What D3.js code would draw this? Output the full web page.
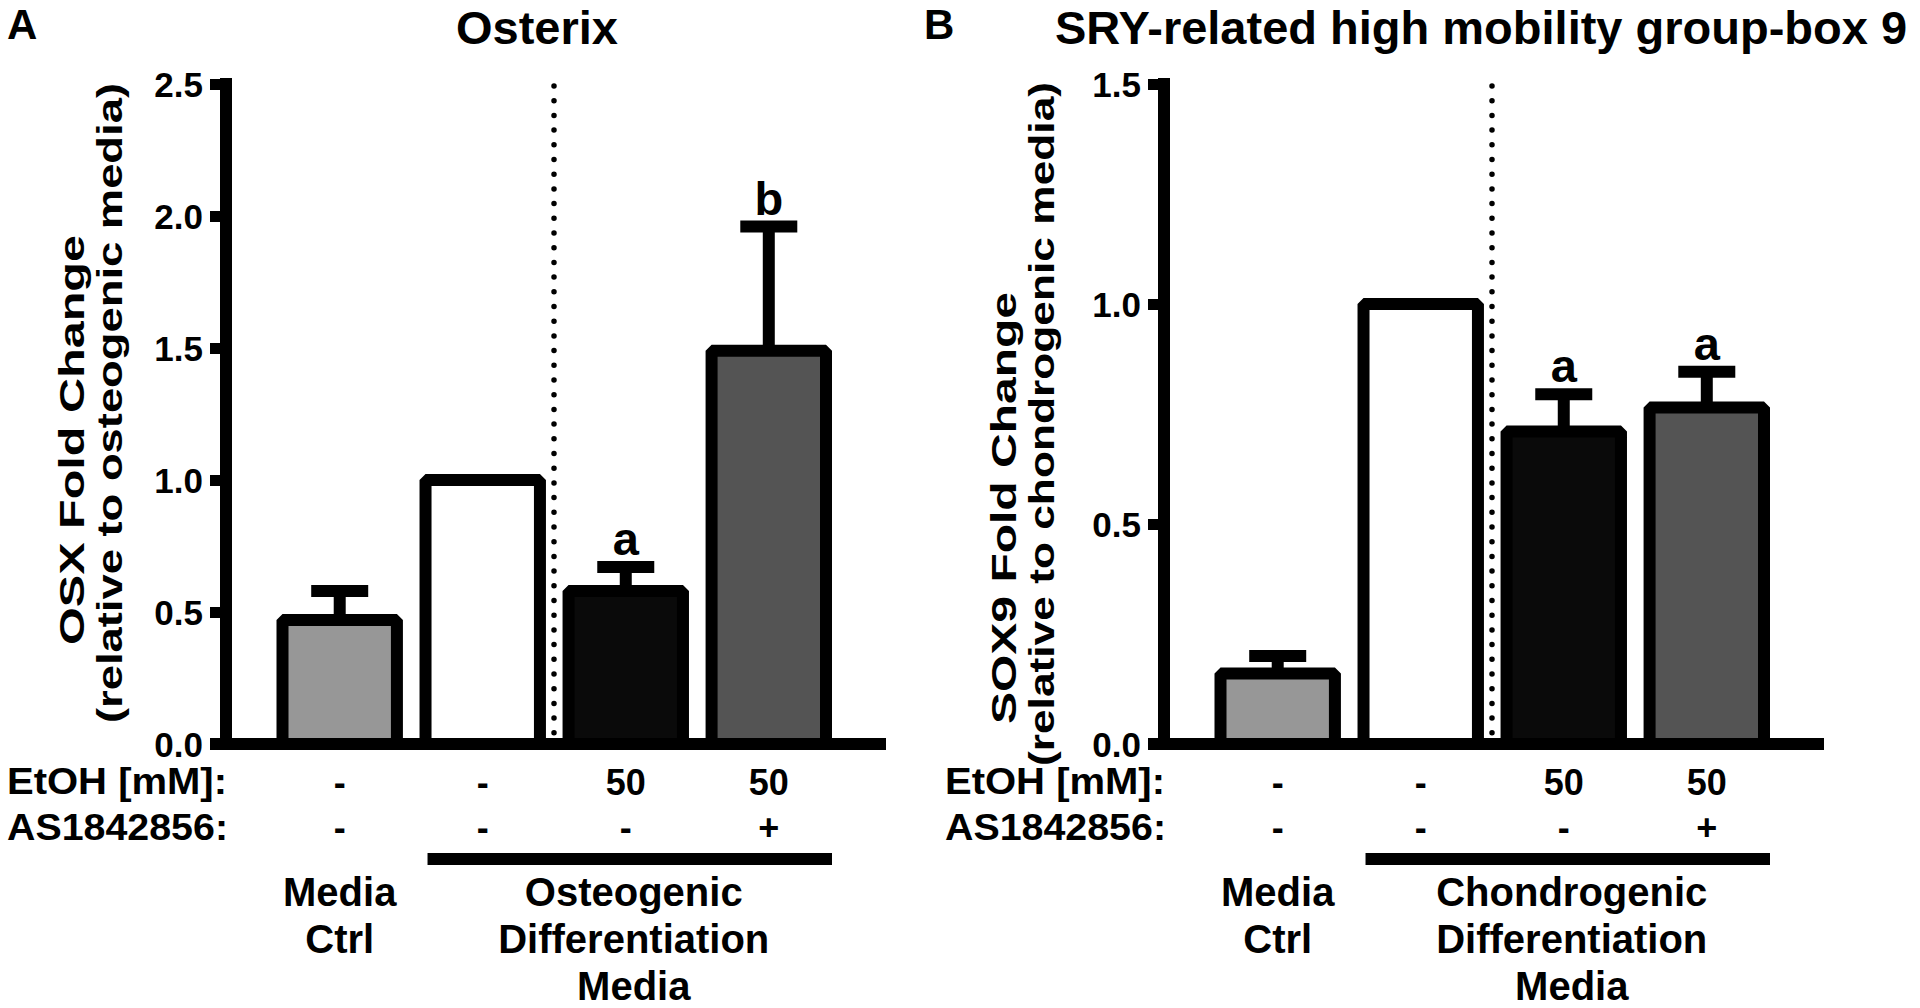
<!DOCTYPE html>
<html>
<head>
<meta charset="utf-8">
<script src="https://cdn.jsdelivr.net/npm/d3@7"></script>
<style>
  html, body { margin: 0; padding: 0; background: #ffffff; }
  svg { display: block; }
  text { font-family: "Liberation Sans", Arial, sans-serif; font-weight: bold; fill: #000; }
</style>
</head>
<body>
<svg id="chart" width="1920" height="1008"></svg>
<script>
// ---------------- data ----------------
const groups = ["Media Ctrl", "Diff", "Diff+EtOH", "Diff+EtOH+AS"];
const etohRow = ["-", "-", "50", "50"];
const asRow = ["-", "-", "-", "+"];
const barFills = ["#979797", "#ffffff", "#0a0a0a", "#545454"];

const osxMeans = [0.47, 1.0, 0.58, 1.49];
const osxUpper = [0.58, null, 0.67, 1.96];
const osxLetters = ["", "", "a", "b"];
const osxTicks = [0, 0.5, 1.0, 1.5, 2.0, 2.5];

const soxMeans = [0.16, 1.0, 0.71, 0.765];
const soxUpper = [0.20, null, 0.795, 0.846];
const soxLetters = ["", "", "a", "a"];
const soxTicks = [0, 0.5, 1.0, 1.5];

const panels = [
  { letter: "A", letterX: 7, title: "Osterix", titleCx: 537,
    ytitle1: "OSX Fold Change", ytitle2: "(relative to osteogenic media)",
    media: ["Osteogenic", "Differentiation", "Media"],
    means: osxMeans, upper: osxUpper, letters: osxLetters, ticks: osxTicks, axisX: 226,
    titleX: 84, t1len: 410, t1c: 440, t2len: 640, t2c: 403 },
  { letter: "B", letterX: 924, title: "SRY-related high mobility group-box 9", titleCx: 1481,
    ytitle1: "SOX9 Fold Change", ytitle2: "(relative to chondrogenic media)",
    media: ["Chondrogenic", "Differentiation", "Media"],
    means: soxMeans, upper: soxUpper, letters: soxLetters, ticks: soxTicks, axisX: 1164,
    titleX: 1016, t1len: 432, t1c: 508, t2len: 684, t2c: 424 }
];

// ---------------- drawing ----------------
const svg = d3.select("#chart");
const Y0 = 744, YTOP = 84;
const LW = 12;

panels.forEach((p) => {
  const g = svg.append("g");
  const ax = p.axisX;
  const off = ax - 226;

  const y = d3.scaleLinear().domain([0, d3.max(p.ticks)]).range([Y0, YTOP]);
  const x = d3.scaleBand().domain(groups).range([ax + 56.5, ax + 600]).paddingInner(0.2).paddingOuter(0);
  const cx = d => x(d) + x.bandwidth() / 2;

  // panel letter and title
  g.append("text").attr("x", p.letterX).attr("y", 39).attr("font-size", 42).text(p.letter);
  g.append("text").attr("x", p.titleCx).attr("y", 44).attr("font-size", 47)
    .attr("text-anchor", "middle").text(p.title);

  // y axis
  const yAxis = d3.axisLeft(y).tickValues(p.ticks).tickFormat(d3.format(".1f"))
    .tickSize(16).tickSizeOuter(0).tickPadding(7);
  const ag = g.append("g").attr("transform", `translate(${ax},0)`).call(yAxis);
  ag.select(".domain").remove();
  ag.selectAll(".tick line").attr("stroke", "#000").attr("stroke-width", 11);
  ag.selectAll(".tick text").attr("font-size", 35).attr("font-family", "'Liberation Sans', Arial, sans-serif")
    .attr("font-weight", "bold").attr("fill", "#000").attr("dy", "0.36em");
  g.append("line").attr("x1", ax).attr("x2", ax).attr("y1", YTOP - 6).attr("y2", Y0)
    .attr("stroke", "#000").attr("stroke-width", LW);

  // y-axis titles (rotated)
  g.append("text").attr("transform", `translate(${p.titleX},${p.t1c}) rotate(-90)`)
    .attr("text-anchor", "middle").attr("font-size", 35)
    .attr("textLength", p.t1len).attr("lengthAdjust", "spacingAndGlyphs").text(p.ytitle1);
  g.append("text").attr("transform", `translate(${p.titleX + 38},${p.t2c}) rotate(-90)`)
    .attr("text-anchor", "middle").attr("font-size", 35)
    .attr("textLength", p.t2len).attr("lengthAdjust", "spacingAndGlyphs").text(p.ytitle2);

  // dotted separator
  g.append("line").attr("x1", ax + 328).attr("x2", ax + 328).attr("y1", 86).attr("y2", Y0 - 6)
    .attr("stroke", "#000").attr("stroke-width", 5.5).attr("stroke-linecap", "round")
    .attr("stroke-dasharray", "0,14.7");

  // error bars
  groups.forEach((gr, i) => {
    if (p.upper[i] == null) return;
    g.append("line").attr("x1", cx(gr)).attr("x2", cx(gr)).attr("y1", y(p.means[i])).attr("y2", y(p.upper[i]))
      .attr("stroke", "#000").attr("stroke-width", LW);
    g.append("line").attr("x1", cx(gr) - 28.5).attr("x2", cx(gr) + 28.5).attr("y1", y(p.upper[i])).attr("y2", y(p.upper[i]))
      .attr("stroke", "#000").attr("stroke-width", LW);
  });

  // bars
  g.selectAll("rect.bar").data(groups).enter().append("rect").attr("class", "bar")
    .attr("x", d => x(d)).attr("width", x.bandwidth())
    .attr("y", (d, i) => y(p.means[i])).attr("height", (d, i) => Y0 - y(p.means[i]))
    .attr("fill", (d, i) => barFills[i]).attr("stroke", "#000").attr("stroke-width", LW)
    .attr("stroke-linejoin", "bevel");

  // x axis line
  g.append("line").attr("x1", ax - 16).attr("x2", ax + 660).attr("y1", Y0).attr("y2", Y0)
    .attr("stroke", "#000").attr("stroke-width", LW);

  // significance letters
  groups.forEach((gr, i) => {
    if (!p.letters[i]) return;
    const top = y(p.upper[i] != null ? p.upper[i] : p.means[i]) - LW / 2;
    g.append("text").attr("x", cx(gr)).attr("y", top - 6).attr("font-size", 47)
      .attr("text-anchor", "middle").text(p.letters[i]);
  });

  // treatment rows
  g.append("text").attr("x", 7 + off).attr("y", 794).attr("font-size", 36)
    .attr("textLength", 220).attr("lengthAdjust", "spacingAndGlyphs").text("EtOH [mM]:");
  g.append("text").attr("x", 7 + off).attr("y", 840).attr("font-size", 36)
    .attr("textLength", 221).attr("lengthAdjust", "spacingAndGlyphs").text("AS1842856:");
  groups.forEach((gr, i) => {
    g.append("text").attr("x", cx(gr)).attr("y", 795).attr("font-size", 36)
      .attr("text-anchor", "middle").text(etohRow[i]);
    g.append("text").attr("x", cx(gr)).attr("y", 840).attr("font-size", 36)
      .attr("text-anchor", "middle").text(asRow[i]);
  });

  // group bracket line
  g.append("line").attr("x1", x(groups[1]) + 2).attr("x2", x(groups[3]) + x.bandwidth() + 6)
    .attr("y1", 859).attr("y2", 859).attr("stroke", "#000").attr("stroke-width", LW);

  // bottom group labels
  const c0 = cx(groups[0]);
  g.append("text").attr("x", c0).attr("y", 906).attr("font-size", 40).attr("text-anchor", "middle").text("Media");
  g.append("text").attr("x", c0).attr("y", 953).attr("font-size", 40).attr("text-anchor", "middle").text("Ctrl");
  const c2 = cx(groups[2]) + 8;
  p.media.forEach((t, k) => {
    g.append("text").attr("x", c2).attr("y", 906 + 47 * k).attr("font-size", 40)
      .attr("text-anchor", "middle").text(t);
  });
});
</script>
</body>
</html>
